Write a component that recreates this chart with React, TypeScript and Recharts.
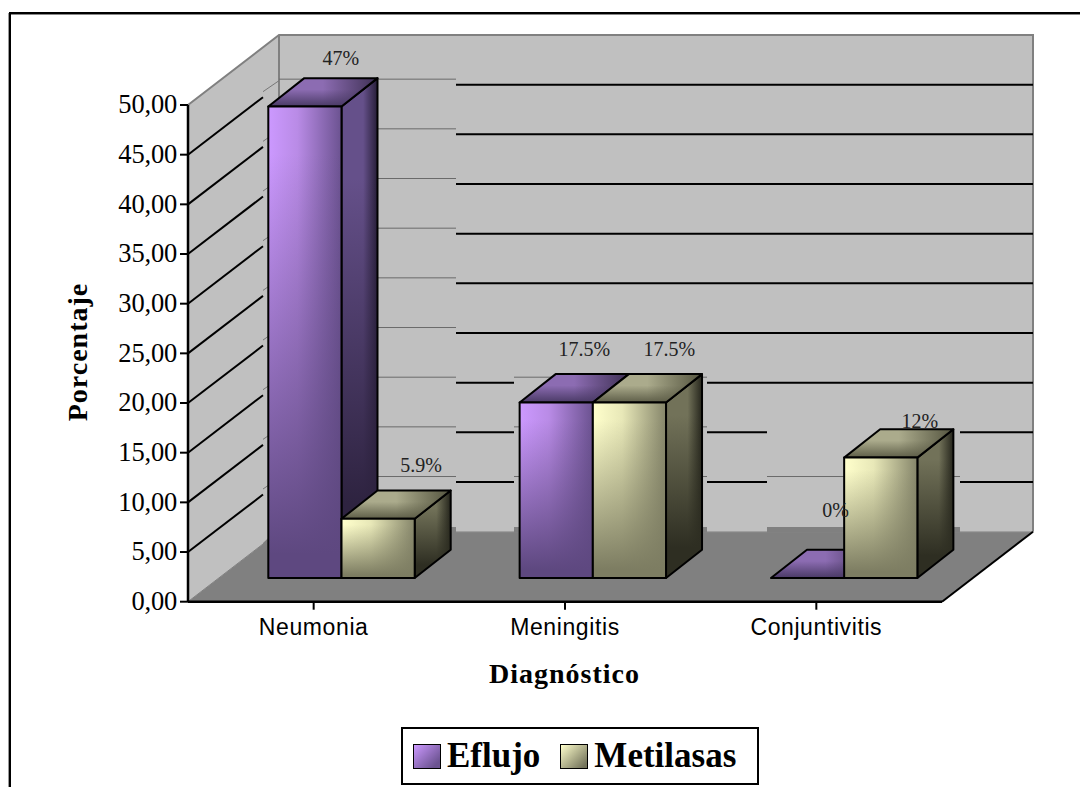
import { BarChart, Bar, XAxis, YAxis, CartesianGrid, LabelList, Legend } from "recharts";

const categories = ["Neumonia", "Meningitis", "Conjuntivitis"];
const eflujo = [47, 17.5, 0];
const metilasas = [5.9, 17.5, 12];
const yTicks = [0, 5, 10, 15, 20, 25, 30, 35, 40, 45, 50];

const data = categories.map((name, i) => ({
  name,
  Eflujo: eflujo[i],
  Metilasas: metilasas[i],
}));

// front plane of the plot box
const LEFT = 188;
const RIGHT = 942;
const TOP = 105;
const BOTTOM = 601.7;

// how far the back wall is pushed away from the front plane
const WALL_DX = 91;
const WALL_DY = 70;

// where the boxes stand on the floor, and how deep they are
const BAR_DX = 28.3;
const BAR_DY = 23.7;
const BOX_DX = 36;
const BOX_DY = 28.3;

// cleared strips behind each cluster, gridlines are redrawn thin there
const STRIPS = [
  { from: 263, to: 456, top: 79 },
  { from: 514, to: 707, top: 372 },
  { from: 767, to: 960, top: 428 },
];
const STRIP_SHIFT = 5.5;

// label nudges from the back edge of the box top, one list per series
const eflujoLabelOffset = [[0, -20], [-8, -25], [-8, -40]];
const metilasasLabelOffset = [[7, -26], [4, -25], [3, -8]];

const serif = "'Liberation Serif', 'Times New Roman', serif";
const sans = "'Liberation Sans', Arial, sans-serif";

const palettes = {
  eff: {
    light: "#CC99FF", mid: "#B98BE6", right: "#6B5290", bottom: "#5E4880",
    sideA: "#65508A", sideB: "#271E38", sideBottom: "#2E2340",
    topA: "#8C6CB2", topB: "#3E3054", topShade: "#4A3A66",
  },
  met: {
    light: "#FFFFCC", mid: "#E8E8B8", right: "#85856A", bottom: "#7D7D62",
    sideA: "#727259", sideB: "#25251C", sideBottom: "#2E2E22",
    topA: "#ABAB8C", topB: "#54543F", topShade: "#5E5E48",
  },
};

function BoxGradients({ id }: { id: "eff" | "met" }) {
  const p = palettes[id];
  return (
    <>
      <linearGradient id={`${id}-front`} x1="0" y1="0" x2="1" y2="0">
        <stop offset="0" stopColor={p.light} />
        <stop offset="0.4" stopColor={p.mid} />
        <stop offset="1" stopColor={p.right} />
      </linearGradient>
      <linearGradient id={`${id}-front-shade`} x1="0" y1="0" x2="0" y2="1">
        <stop offset="0.1" stopColor={p.bottom} stopOpacity="0" />
        <stop offset="0.95" stopColor={p.bottom} stopOpacity="1" />
      </linearGradient>
      <linearGradient id={`${id}-side`} x1="0" y1="0" x2="1" y2="0">
        <stop offset="0" stopColor={p.sideA} />
        <stop offset="0.6" stopColor={p.sideA} />
        <stop offset="1" stopColor={p.sideB} />
      </linearGradient>
      <linearGradient id={`${id}-side-shade`} x1="0" y1="0" x2="0" y2="1">
        <stop offset="0.2" stopColor={p.sideBottom} stopOpacity="0" />
        <stop offset="0.85" stopColor={p.sideBottom} stopOpacity="1" />
      </linearGradient>
      <linearGradient id={`${id}-top`} x1="0" y1="0" x2="1" y2="0">
        <stop offset="0" stopColor={p.topA} />
        <stop offset="0.5" stopColor={p.topA} />
        <stop offset="1" stopColor={p.topB} />
      </linearGradient>
      <linearGradient id={`${id}-top-shade`} x1="0" y1="0" x2="0" y2="1">
        <stop offset="0.4" stopColor={p.topShade} stopOpacity="0" />
        <stop offset="1" stopColor={p.topShade} stopOpacity="1" />
      </linearGradient>
    </>
  );
}

function pts(list: number[][]) {
  return list.map((p) => p.join(",")).join(" ");
}

// bars stand a bit behind the front plane, so they rise slightly more than the axis
const RISE = 1.01;

function boxShape(id: "eff" | "met") {
  return function Box3D(props: any) {
    const { x, y, width, height } = props;
    const l = x + BAR_DX;
    const r = l + width;
    const base = y + height - BAR_DY;
    const top = base - height * RISE;
    const front = [[l, top], [r, top], [r, base], [l, base]];
    const side = [[r, top], [r + BOX_DX, top - BOX_DY], [r + BOX_DX, base - BOX_DY], [r, base]];
    const lid = [[l, top], [l + BOX_DX, top - BOX_DY], [r + BOX_DX, top - BOX_DY], [r, top]];
    const line = { stroke: "#000", strokeWidth: 2, strokeLinejoin: "round" as const };
    return (
      <g>
        <polygon points={pts(side)} fill={`url(#${id}-side)`} />
        <polygon points={pts(side)} fill={`url(#${id}-side-shade)`} {...line} />
        <polygon points={pts(lid)} fill={`url(#${id}-top)`} />
        <polygon points={pts(lid)} fill={`url(#${id}-top-shade)`} {...line} />
        {height > 0 && (
          <>
            <polygon points={pts(front)} fill={`url(#${id}-front)`} />
            <polygon points={pts(front)} fill={`url(#${id}-front-shade)`} {...line} />
          </>
        )}
      </g>
    );
  };
}

// one y tick: a diagonal on the side wall and its continuation on the back wall
function WallGridline(props: any) {
  const y = props.y1;
  if (y < TOP + 2 || y > BOTTOM - 2) return <g key={props.key} />;
  const back = y - WALL_DY;
  const backLeft = LEFT + WALL_DX;
  const backRight = RIGHT + WALL_DX;
  const hidden = STRIPS.filter((s) => back > s.top);
  const edges = [backLeft, ...hidden.flatMap((s) => [s.from, s.to]), backRight].sort((a, b) => a - b);
  const blackRuns: number[][] = [];
  for (let i = 0; i + 1 < edges.length; i += 2) {
    const from = Math.max(edges[i], backLeft);
    if (edges[i + 1] > from) blackRuns.push([from, edges[i + 1]]);
  }
  const thinY = back - STRIP_SHIFT;
  return (
    <g key={props.key}>
      <line x1={LEFT} y1={y} x2={263} y2={y - 57.5} stroke="#000" strokeWidth={2} />
      <line x1={263} y1={y - 63} x2={backLeft} y2={y - 74} stroke="#777" strokeWidth={1} />
      {blackRuns.map((run, i) => (
        <line key={i} x1={run[0]} y1={back} x2={run[1]} y2={back} stroke="#000" strokeWidth={2} />
      ))}
      {hidden
        .filter((s) => thinY >= s.top - 1)
        .map((s, i) => (
          <line
            key={`t${i}`}
            x1={Math.max(s.from, backLeft)}
            y1={thinY}
            x2={s.to}
            y2={thinY}
            stroke="#6a6a6a"
            strokeWidth={1}
          />
        ))}
    </g>
  );
}

// sits in its own svg under the chart so the grid layer stays on top of it
function WallsAndFloor() {
  const bl = LEFT + WALL_DX;
  const br = RIGHT + WALL_DX;
  const backTop = TOP - WALL_DY;
  const backBottom = BOTTOM - WALL_DY;
  return (
    <svg width={1080} height={787} style={{ position: "absolute", left: 0, top: 0 }}>
      <polygon points={pts([[bl, backTop], [br, backTop], [br, backBottom], [bl, backBottom]])} fill="#C0C0C0" />
      <polygon points={pts([[LEFT, TOP], [bl, backTop], [bl, backBottom], [LEFT, BOTTOM]])} fill="#C0C0C0" />
      <polygon points={pts([[LEFT, BOTTOM], [bl, backBottom], [br, backBottom], [RIGHT, BOTTOM]])} fill="#808080" />
      <polyline
        points={pts([[LEFT, TOP], [bl, backTop], [br, backTop], [br, backBottom]])}
        fill="none"
        stroke="#808080"
        strokeWidth={2}
      />
      <line x1={bl} y1={backTop} x2={bl} y2={backBottom} stroke="#808080" strokeWidth={2} />
      <line x1={LEFT} y1={BOTTOM} x2={bl} y2={backBottom} stroke="#808080" strokeWidth={1} />
      <line x1={bl} y1={backBottom} x2={br} y2={backBottom} stroke="#999" strokeWidth={1} />
      <line x1={RIGHT} y1={BOTTOM} x2={br} y2={backBottom} stroke="#000" strokeWidth={2} />
    </svg>
  );
}

// floor colour creeps up a few pixels inside the strips
function FloorStrips() {
  const backBottom = BOTTOM - WALL_DY;
  return (
    <g>
      <polygon points={pts([[263, 543], [280, 527], [456, 527], [456, 533], [263, 547]])} fill="#808080" />
      {STRIPS.slice(1).map((s) => (
        <rect key={s.from} x={s.from} y={527} width={s.to - s.from} height={backBottom - 527 + 1} fill="#808080" />
      ))}
    </g>
  );
}

function valueLabel(offsets: number[][]) {
  return function ValueLabel(props: any) {
    const { x, y, width, height, value, index } = props;
    const base = y + height - BAR_DY;
    const top = base - height * RISE;
    const [ox, oy] = offsets[index];
    return (
      <text
        x={x + BAR_DX + width / 2 + BOX_DX + ox}
        y={top - BOX_DY + oy}
        textAnchor="middle"
        dominantBaseline="central"
        fontFamily={serif}
        fontSize={20}
        fill="#222"
      >
        {`${value}%`}
      </text>
    );
  };
}

function LegendBox({ payload }: any) {
  const swatches = [
    "linear-gradient(135deg, #CC99FF, #6B5290 85%)",
    "linear-gradient(135deg, #FFFFCC, #75755C 90%)",
  ];
  return (
    <div
      style={{
        boxSizing: "border-box",
        width: 358,
        height: 58,
        border: "2px solid #000",
        background: "#fff",
        display: "flex",
        alignItems: "center",
        paddingLeft: 10,
        fontFamily: serif,
        fontWeight: 700,
        fontSize: 35,
        color: "#000",
      }}
    >
      {(payload || []).map((entry: any, i: number) => (
        <div key={entry.value} style={{ display: "flex", alignItems: "center", marginRight: 20 }}>
          <span
            style={{
              boxSizing: "border-box",
              width: 28,
              height: 25,
              border: "1.5px solid #000",
              background: swatches[i],
              marginRight: 6,
            }}
          />
          {entry.value}
        </div>
      ))}
    </div>
  );
}

export default function App() {
  return (
    <div style={{ position: "absolute", left: 0, top: 0, width: 1080, height: 787, overflow: "hidden", background: "#fff" }}>
      {/* frame: only the top and left edges fall inside the page */}
      <div
        style={{
          position: "absolute",
          left: 9,
          top: 12,
          width: 1100,
          height: 800,
          borderTop: "2.5px solid #000",
          borderLeft: "2.5px solid #000",
          boxShadow: "-1px 1px 0 #999, inset 0 1px 0 #888",
        }}
      />
      <WallsAndFloor />
      <BarChart
        width={1080}
        height={787}
        data={data}
        barSize={73.2}
        barGap={0}
        margin={{ top: TOP, left: LEFT - 60, right: 1080 - RIGHT, bottom: 787 - BOTTOM - 60 }}
        style={{ position: "absolute", left: 0, top: 0 }}
      >
        <defs>
          <BoxGradients id="eff" />
          <BoxGradients id="met" />
        </defs>
        <CartesianGrid vertical={false} horizontal={(p: any) => <WallGridline {...p} />} />
        <FloorStrips />
        <XAxis
          dataKey="name"
          height={60}
          interval={0}
          tickSize={8}
          tick={{ fontFamily: sans, fontSize: 23, fill: "#000", letterSpacing: 0.6, dy: 3 }}
          tickMargin={6}
          axisLine={{ stroke: "#000", strokeWidth: 2.5 }}
          tickLine={{ stroke: "#000", strokeWidth: 2 }}
        />
        <YAxis
          width={60}
          domain={[0, 50]}
          ticks={yTicks}
          interval={0}
          tickSize={8}
          tickFormatter={(v: number) => v.toFixed(2).replace(".", ",")}
          tick={{ fontFamily: serif, fontSize: 26.5, fill: "#000", letterSpacing: -0.2, dy: -1 }}
          tickMargin={3}
          axisLine={{ stroke: "#000", strokeWidth: 2.5 }}
          tickLine={{ stroke: "#000", strokeWidth: 2 }}
        />
        <Bar dataKey="Eflujo" name="Eflujo" fill="#8A6AB0" shape={boxShape("eff")} isAnimationActive={false}>
          <LabelList dataKey="Eflujo" content={valueLabel(eflujoLabelOffset)} />
        </Bar>
        <Bar dataKey="Metilasas" name="Metilasas" fill="#AAAA88" shape={boxShape("met")} isAnimationActive={false}>
          <LabelList dataKey="Metilasas" content={valueLabel(metilasasLabelOffset)} />
        </Bar>
        <text x={564.5} y={683} textAnchor="middle" fontFamily={serif} fontWeight={700} fontSize={28} letterSpacing={1} fill="#000">
          Diagnóstico
        </text>
        <text
          transform="translate(87 352) rotate(-90)"
          textAnchor="middle"
          fontFamily={serif}
          fontWeight={700}
          fontSize={28}
          letterSpacing={1}
          fill="#000"
        >
          Porcentaje
        </text>
        <Legend
          layout="horizontal"
          verticalAlign="middle"
          align="center"
          content={<LegendBox />}
          wrapperStyle={{ left: 401, top: 727, width: 358, height: 58 }}
        />
      </BarChart>
    </div>
  );
}
